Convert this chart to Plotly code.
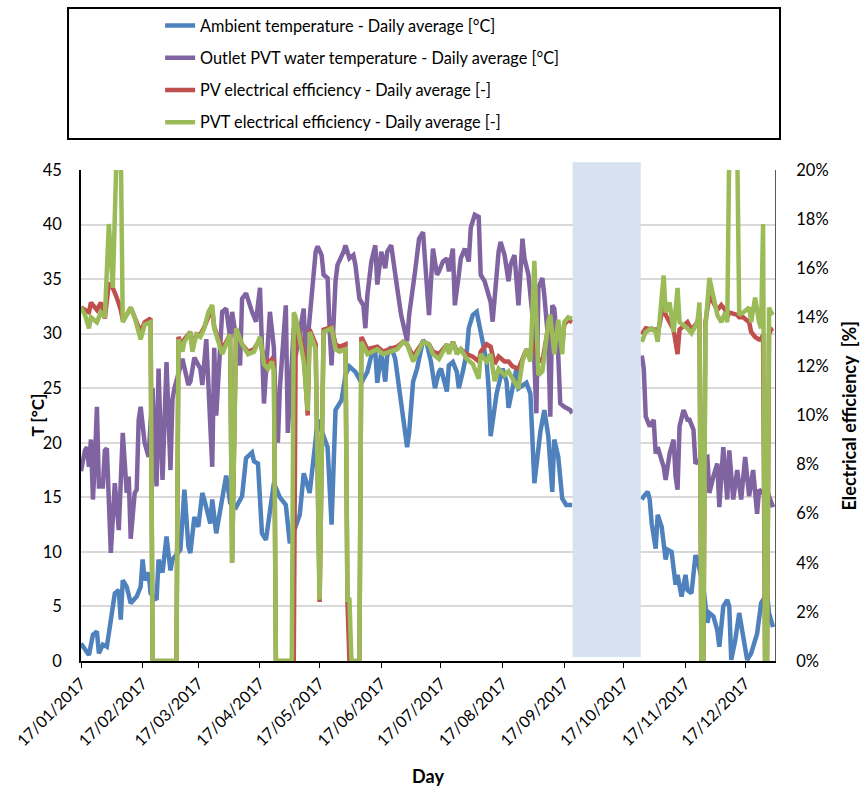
import pandas as pd
import plotly.graph_objects as go

START = pd.Timestamp("2017-01-17")
NaN = None

# ---- Ambient temperature (daily average, °C); day offset from 17/01/2017
amb_days = [0, 4, 6, 8, 9, 11, 13, 17, 19, 20, 21, 23, 25, 28, 30, 31, 32, 34, 35, 38, 39, 41, 43, 45, 46,
            50, 52, 54, 55, 57, 59, 61, 62, 65, 66, 68, 70, 73, 75, 78, 81, 83, 86, 87, 89, 91, 93, 97, 100,
            103, 105, 110, 112, 115, 118, 119, 124, 126, 128, 131, 133, 135, 138, 141, 144, 146, 148, 149,
            151, 153, 154, 156, 158, 160, 164, 165, 167, 169, 172, 174, 176, 178, 180, 181, 184, 185, 187,
            189, 190, 192, 194, 195, 197, 199, 200, 202, 204, 205, 206, 209, 210, 212, 214, 215, 217, 219,
            220, 224, 226, 228, 231, 233, 235, 237, 238, 240, 242, 244, 247, 260,
            282, 283, 285, 286, 287, 289, 290, 292, 294, 295, 297, 299, 300, 302, 304, 305, 307, 309, 310,
            313, 315, 316, 318, 320, 321, 323, 325, 326, 327, 329, 331, 333, 335, 337, 340, 342, 345, 346, 348]
amb_temp = [1.6, 0.55, 2.4, 2.7, 0.7, 1.5, 1.3, 6.2, 6.5, 3.8, 7.4, 6.8, 5.3, 5.9, 6.8, 9.3, 7.4, 8.1, 6.2,
            5.6, 9.3, 8.1, 11.4, 8.3, 9.3, 10.2, 15.7, 10.5, 9.9, 13.2, 12.3, 15.4, 14.8, 12.6, 14.8, 11.7,
            13.8, 17.0, 14.5, 14.1, 15.1, 18.6, 19.1, 18.3, 18.1, 11.7, 11.1, 16.3, 15.0, 14.3, 10.8, 13.4,
            17.2, 15.4, 20.3, 22.1, 19.6, 12.5, 23.0, 23.9, 26.2, 27.0, 26.5, 25.5, 26.5, 28.0, 28.3, 25.5,
            28.3, 25.6, 28.0, 28.8, 27.7, 25.0, 19.6, 20.9, 25.6, 26.8, 29.4, 29.0, 27.4, 25.0, 26.5, 26.8,
            24.7, 27.1, 27.4, 26.5, 25.0, 26.5, 28.3, 30.5, 31.7, 32.0, 31.1, 29.3, 27.4, 25.0, 20.6, 24.5,
            25.3, 26.8, 25.6, 23.2, 25.0, 26.8, 25.0, 25.5, 24.5, 16.3, 21.0, 23.0, 20.6, 15.5, 20.3, 18.7,
            14.9, 14.3, 14.3, NaN,
            14.8, 15.1, 15.5, 14.8, 12.6, 10.3, 13.4, 12.3, 9.3, 10.2, 10.0, 7.0, 7.9, 5.9, 7.9, 6.5, 6.2,
            9.7, 9.3, 6.8, 3.5, 4.4, 4.1, 2.8, 1.3, 5.0, 5.6, 5.0, 0.1, 1.9, 4.4, 2.5, 0.1, 0.7, 2.5, 5.3,
            6.2, 4.4, 3.1]

# ---- Outlet PVT water temperature (daily average, °C)
out_days = [0, 2, 3, 4, 5, 6, 7, 8, 9, 11, 12, 13, 15, 17, 19, 20, 21, 23, 24, 25, 27, 28, 29, 30, 32, 34,
            36, 38, 39, 40, 41, 43, 45, 46, 47, 50, 51, 54, 55, 57, 60, 61, 63, 66, 67, 68, 71, 73, 75, 76,
            80, 81, 83, 86, 88, 90, 92, 95, 97, 98, 99, 100, 103, 104, 107, 108, 112, 113, 116, 118, 119,
            121, 122, 124, 125, 126, 128, 129, 132, 133, 135, 137, 138, 140, 142, 143, 144, 146, 148, 149,
            151, 153, 154, 156, 159, 161, 164, 165, 168, 170, 172, 174, 175, 177, 179, 180, 182, 184, 185,
            187, 188, 190, 191, 193, 195, 196, 198, 200, 201, 203, 206, 207, 210, 211, 213, 215, 216, 218,
            220, 222, 223, 225, 227, 228, 229, 230, 232, 233, 235, 236, 237, 238, 240, 241, 243, 246, 247,
            260,
            282, 283, 284, 286, 288, 289, 290, 293, 294, 296, 298, 299, 300, 301, 303, 305, 306, 308, 309,
            311, 315, 316, 318, 320, 321, 323, 325, 326, 328, 330, 332, 334, 336, 338, 340, 341, 343, 345,
            346, 348]
out_temp = [17.4, 19.3, 19.6, 17.8, 20.3, 14.8, 18.4, 23.3, 16.0, 16.0, 19.3, 19.5, 9.9, 16.3, 12.0, 17.2,
            20.9, 15.4, 16.9, 11.2, 15.4, 15.7, 22.1, 23.3, 20.0, 18.7, 25.0, 16.0, 26.8, 20.9, 16.6, 27.4,
            17.5, 24.0, 25.0, 27.0, 27.7, 25.3, 25.6, 27.8, 26.8, 25.3, 29.5, 17.8, 28.7, 22.5, 32.0, 32.3,
            29.6, 32.0, 27.1, 33.2, 33.7, 32.0, 31.1, 34.2, 23.6, 32.0, 28.7, 22.0, 20.0, 25.0, 32.6, 20.9,
            30.5, 28.0, 32.3, 27.4, 33.4, 37.5, 38.0, 37.2, 35.4, 35.1, 30.5, 27.1, 34.8, 36.3, 37.5, 38.1,
            36.9, 37.2, 36.3, 33.2, 32.6, 30.5, 33.5, 36.6, 38.1, 34.5, 37.5, 36.0, 37.5, 38.1, 34.2, 31.7,
            29.3, 31.7, 35.7, 38.7, 39.3, 34.2, 31.7, 37.8, 35.4, 35.7, 36.6, 36.9, 35.7, 37.8, 32.6, 35.4,
            36.9, 37.8, 36.6, 39.7, 40.9, 40.7, 35.4, 34.8, 32.9, 31.1, 37.5, 38.4, 37.2, 34.8, 36.3, 37.2,
            32.6, 38.7, 36.9, 35.4, 31.7, 27.4, 22.7, 34.2, 35.1, 33.5, 29.3, 22.4, 32.6, 32.3, 28.0, 23.6,
            23.3, 23.0, 22.7, NaN,
            28.0, 26.8, 22.4, 21.5, 22.1, 19.0, 19.6, 17.8, 16.6, 19.0, 20.3, 16.9, 15.7, 21.5, 23.0, 22.1,
            22.1, 21.2, 18.1, 18.4, 18.7, 15.4, 16.9, 18.1, 14.1, 19.6, 14.8, 19.3, 14.8, 17.5, 14.8, 18.7,
            15.1, 17.5, 13.5, 15.7, 15.4, 15.7, 15.1, 14.1]

# ---- Electrical efficiencies (daily average, %)
eff_days = [0, 2, 4, 5, 8, 10, 12, 14, 16, 18, 20, 21, 23, 25, 27, 30, 32, 35, 36, 48, 49, 51, 52, 55, 56,
            58, 60, 62, 64, 66, 67, 71, 75, 76, 78, 81, 84, 87, 90, 92, 94, 96, 97, 98, 106, 107, 108, 109,
            110, 112, 114, 115, 118, 120, 122, 126, 128, 130, 133, 134, 135, 136, 140, 141, 144, 149, 152, 155,
            159, 162, 164, 167, 172, 175, 177, 180, 184, 185, 187, 189, 191, 194, 197, 200, 201, 204, 206,
            208, 210, 213, 215, 217, 220, 222, 224, 226, 228, 230, 232, 235, 236, 238, 240, 242, 243, 245,
            247, 260,
            282, 284, 287, 289, 290, 293, 294, 296, 298, 300, 301, 305, 307, 310, 311, 312, 313, 314, 316,
            318, 320, 322, 324, 325, 326, 330, 331, 333, 336, 337, 339, 341, 342, 343, 344, 345, 346, 347,
            348]
pvt_eff = [14.4, 14.1, 13.55, 14.0, 13.8, 14.2, 14.0, 17.8, 15.2, 21.0, 21.0, 13.8, 14.1, 14.4, 14.0, 13.1,
           13.7, 13.8, 0.0, 0.0, 13.1, 12.6, 13.0, 13.4, 12.6, 13.3, 13.2, 13.55, 14.2, 14.5, 13.55, 12.5,
           13.3, 4.0, 13.55, 12.9, 12.5, 12.6, 13.2, 12.1, 11.9, 12.2, 11.8, 0.0, 0.0, 14.2, 14.0, 13.5,
           13.0, 12.2, 10.2, 13.4, 12.7, 2.5, 13.4, 13.55, 12.7, 12.6, 12.7, 2.5, 2.5, 0.0, 0.0, 13.0, 12.5,
           12.7, 12.5, 12.6, 12.7, 13.0, 12.9, 12.2, 13.0, 12.9, 12.5, 12.3, 12.9, 12.5, 13.0, 12.5, 12.7,
           12.3, 12.1, 11.5, 12.5, 12.2, 12.5, 11.4, 11.9, 11.65, 11.8, 11.5, 11.1, 12.2, 12.7, 12.2, 16.3,
           11.65, 11.8, 13.8, 14.1, 12.5, 13.9, 12.5, 13.8, 14.0, 13.95, NaN,
           13.0, 13.4, 13.55, 13.4, 13.0, 15.7, 14.2, 14.6, 13.4, 15.2, 13.8, 13.55, 13.35, 13.8, 14.6,
           0.0, 0.0, 13.55, 15.6, 14.9, 14.1, 13.8, 14.2, 13.8, 21.0, 21.0, 14.1, 14.2, 14.4, 13.8, 14.8,
           13.8, 13.55, 17.8, 0.0, 0.0, 14.4, 14.2, 14.1]
pv_eff = [14.4, 14.3, 14.2, 14.6, 14.3, 14.6, 13.95, 15.4, 15.2, 14.8, 14.3, 13.9, 14.1, 14.4, 14.0, 13.4,
          13.8, 13.95, 0.0, 0.0, 13.2, 12.8, 13.1, 13.4, 12.8, 13.3, 13.3, 13.6, 14.0, 14.3, 13.6, 12.7,
          13.3, 4.0, 13.5, 12.9, 12.6, 12.7, 13.1, 12.3, 12.1, 12.3, 12.2, 0.0, 0.0, 0.0, 13.6, 13.6,
          13.3, 12.6, 10.0, 13.5, 12.9, 2.4, 13.5, 13.6, 12.9, 12.8, 12.9, 2.4, 0.0, 0.0, 0.0, 13.2, 12.7,
          12.8, 12.6, 12.7, 12.8, 13.0, 12.9, 12.4, 13.0, 12.9, 12.6, 12.5, 12.9, 12.6, 13.0, 12.6, 12.7,
          12.5, 12.4, 12.2, 12.6, 12.9, 12.8, 12.1, 12.4, 12.2, 12.2, 12.0, 11.9, 12.3, 12.7, 12.4, 13.0,
          12.3, 12.2, 13.6, 13.9, 12.9, 13.7, 12.8, 13.7, 13.9, 13.8, NaN,
          13.3, 13.55, 13.5, 13.5, 13.3, 14.6, 14.1, 13.8, 13.5, 12.5, 13.5, 13.8, 13.5, 13.8, 14.2,
          0.0, 0.0, 13.8, 14.9, 14.6, 14.3, 14.5, 14.3, 14.0, 14.2, 14.1, 14.0, 14.0, 13.8, 13.4, 13.2,
          13.1, 13.1, 13.3, 0.0, 0.0, 13.3, 13.5, 13.55]

# x-axis ticks (17th of each month) and the shaded period without data
tick_dates = ["2017-%02d-17" % m for m in range(1, 13)]
tick_labels = ["17/%02d/2017" % m for m in range(1, 13)]
shaded_period = ["2017-09-21 06:00", "2017-10-25 12:00"]
x_range = ["2017-01-17", "2018-01-01"]


def to_dates(days):
    return START + pd.to_timedelta(days, unit="D")


FONT = "Lato"
LW = 4.5

fig = go.Figure()
series = [
    ("Ambient temperature - Daily average [°C]", amb_days, amb_temp, "#4f81bd", "y"),
    ("Outlet PVT water temperature - Daily average [°C]", out_days, out_temp, "#8064a2", "y"),
    ("PV electrical efficiency - Daily average [-]", eff_days, pv_eff, "#c0504d", "y2"),
    ("PVT electrical efficiency - Daily average [-]", eff_days, pvt_eff, "#9bbb59", "y2"),
]
for i, (name, d, v, col, ax) in enumerate(series):
    fig.add_trace(go.Scatter(
        x=to_dates(d), y=v, name=name, mode="lines", yaxis=ax,
        line=dict(color=col, width=LW), connectgaps=False,
        legendgroup="g%d" % i,
    ))

fig.add_shape(type="rect", xref="x", yref="paper",
              x0=shaded_period[0], x1=shaded_period[1], y0=0.008, y1=1.016,
              fillcolor="#d6e2ef", line=dict(width=0), layer="above")

# legend frame
fig.add_shape(type="rect", xref="paper", yref="paper",
              x0=-0.0187, x1=1.0072, y0=1.063, y1=1.33,
              line=dict(color="black", width=2), fillcolor="rgba(0,0,0,0)")

# y-axis titles
fig.add_annotation(text="<b>T [°C]</b>", xref="paper", yref="paper", x=-0.0634, y=0.5,
                   textangle=-90, showarrow=False, font=dict(size=17),
                   xanchor="center", yanchor="middle")
fig.add_annotation(text="<b>Electrical efficiency  [%]</b>", xref="paper", yref="paper",
                   x=1.1066, y=0.5, textangle=-90, showarrow=False, font=dict(size=18),
                   xanchor="center", yanchor="middle")

fig.update_layout(
    width=861, height=791,
    margin=dict(l=81, r=86, t=170, b=130, autoexpand=False),
    paper_bgcolor="white", plot_bgcolor="white",
    font=dict(family=FONT, size=16, color="black"),
    showlegend=True,
    legend=dict(x=0.114, y=1.329, xanchor="left", yanchor="top",
                bgcolor="rgba(0,0,0,0)", borderwidth=0,
                font=dict(family=FONT, size=16.3, color="black"),
                tracegroupgap=8, traceorder="grouped"),
    xaxis=dict(type="date", range=x_range, tickvals=tick_dates, ticktext=tick_labels,
               tickangle=-45, ticks="outside", ticklen=5, tickcolor="black",
               showline=True, linecolor="black", linewidth=1.5, showgrid=False,
               tickfont=dict(size=16), zeroline=False, automargin=False,
               title=dict(text="<b>Day</b>", font=dict(size=18), standoff=22)),
    yaxis=dict(range=[0, 45], dtick=5, showgrid=True, gridcolor="#d9d9d9", gridwidth=1.5,
               showline=True, linecolor="black", linewidth=1.5, zeroline=False,
               ticks="outside", ticklen=14, tickcolor="rgba(0,0,0,0)",
               tickfont=dict(size=16.5), automargin=False),
    yaxis2=dict(range=[0, 20], dtick=2, overlaying="y", side="right", showgrid=False,
                ticksuffix="%", showline=True, linecolor="#595959", linewidth=1, zeroline=False,
                ticks="outside", ticklen=17, tickcolor="rgba(0,0,0,0)",
                tickfont=dict(size=16.5), automargin=False),
)

fig.write_html("out.html")
